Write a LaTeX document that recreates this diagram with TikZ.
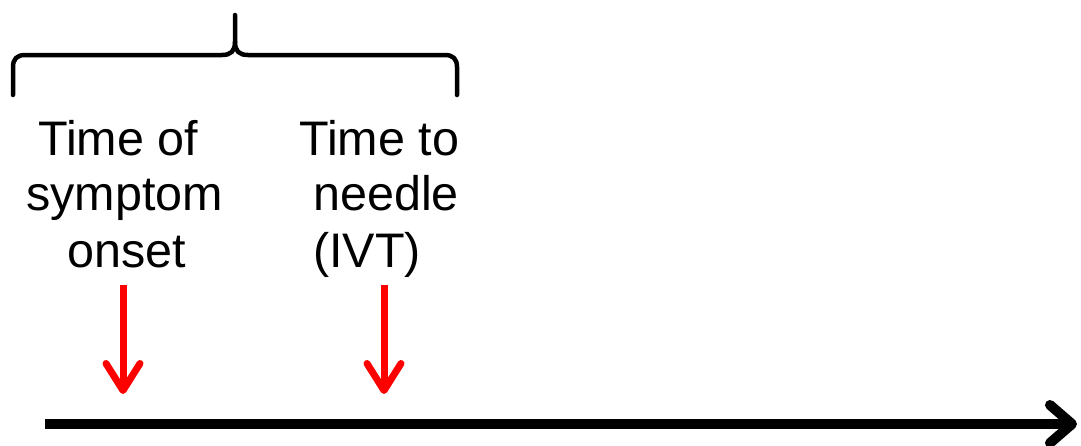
\documentclass[tikz,border=0pt]{standalone}
\usepackage{fontspec}
\setmainfont{Liberation Sans}
\usetikzlibrary{arrows.meta}
\definecolor{arrowred}{RGB}{255,0,0}
\tikzset{
  lbl/.style={anchor=base west, inner sep=0pt, font=\fontsize{48.5}{56}\selectfont},
  redarrow/.style={draw=arrowred, line width=7pt, -{Straight Barb[length=27pt,width=34pt,round]}},
  timeline/.style={draw=black, line width=10pt, -{Straight Barb[length=22pt,width=38pt,round]}},
  bracestyle/.style={draw=black, line width=4.5pt, line cap=round, line join=round}
}
\begin{document}
\begin{tikzpicture}[x=1pt,y=-1pt]
\useasboundingbox (0,0) rectangle (1081,445);
% brace
\draw[bracestyle] (13,95) -- (13,67) .. controls (13,59) and (17,55) .. (25,55)
  -- (222,55) .. controls (231,55) and (235,51) .. (235,42) -- (235,15);
\draw[bracestyle] (235,42) .. controls (235,51) and (239,55) .. (248,55)
  -- (445,55) .. controls (453,55) and (457,59) .. (457,67) -- (457,95);
% labels
\node[lbl] (t1a) at (38,155) {Time of};
\node[lbl] (t1b) at (26,210) {symptom};
\node[lbl] (t1c) at (67,267) {onset};
\node[lbl] (t2a) at (299,155) {Time to};
\node[lbl] (t2b) at (313,210) {needle};
\node[lbl] (t2c) at (313,267) {(IVT)};
% red arrows
\coordinate (a1s) at (123,285);
\coordinate (a1e) at (123,394);
\coordinate (a2s) at (384,285);
\coordinate (a2e) at (384,394);
\draw[redarrow] (a1s) -- (a1e);
\draw[redarrow] (a2s) -- (a2e);
% timeline
\coordinate (ts) at (45,424);
\coordinate (te) at (1077,424);
\draw[timeline] (ts) -- (te);
\end{tikzpicture}
\end{document}
